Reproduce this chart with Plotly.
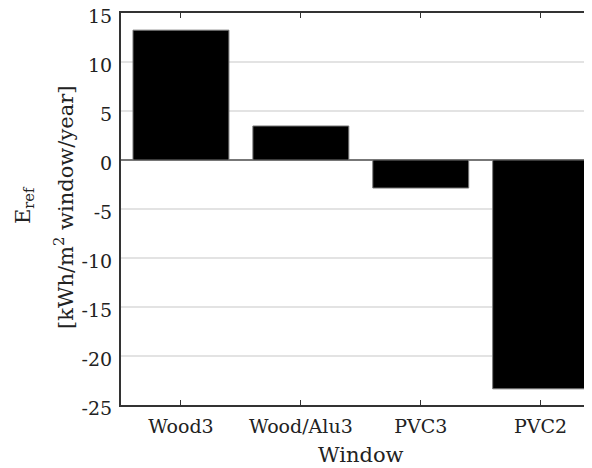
import plotly.graph_objects as go

categories = ["Wood3", "Wood/Alu3", "PVC3", "PVC2"]
e_ref = [13.25, 3.47, -2.86, -23.35]
y_ticks = [-25, -20, -15, -10, -5, 0, 5, 10, 15]
y_ticktext = ["-25", "-20", "-15", "-10", "-5", "0", "5", "10", "15"]

FONT = "DejaVu Serif"
TXT = "#222222"

fig = go.Figure()
fig.add_trace(go.Bar(
    x=list(range(len(categories))), y=e_ref, width=0.8,
    marker=dict(color="black", line=dict(color="#777777", width=1)),
))

# x-axis title
fig.add_annotation(
    x=(len(categories) - 1) / 2, xref="x", y=-0.128, yref="paper",
    text="Window", showarrow=False, yanchor="middle",
    font=dict(family=FONT, size=21, color=TXT),
)
# y-axis title (two lines)
fig.add_annotation(
    x=0, xref="paper", y=0.5, yref="paper", xshift=-97, yshift=4,
    text="E<sub>ref</sub>", showarrow=False, textangle=-90,
    xanchor="center", yanchor="middle",
    font=dict(family=FONT, size=21, color=TXT),
)
fig.add_annotation(
    x=0, xref="paper", y=0.5, yref="paper", xshift=-57, yshift=1,
    text="[kWh/m<sup>2</sup> window/year]", showarrow=False, textangle=-90,
    xanchor="center", yanchor="middle",
    font=dict(family=FONT, size=21, color=TXT),
)

fig.update_layout(
    width=592, height=468,
    margin=dict(l=113, r=9, t=5, b=71),
    paper_bgcolor="white", plot_bgcolor="white",
    showlegend=False,
    font=dict(family=FONT, size=19, color=TXT),
    bargap=0.2,
)
fig.update_xaxes(
    range=[-0.5, 3.42], automargin=False,
    tickmode="array", tickvals=list(range(len(categories))), ticktext=categories,
    ticks="inside", ticklen=5, tickcolor="#333333", tickwidth=1,
    showline=True, linecolor="#333333", linewidth=1.5, mirror="ticks",
    showgrid=False, zeroline=False, ticklabelstandoff=3,
    tickfont=dict(family=FONT, size=19, color=TXT),
)
fig.update_yaxes(
    range=[-25, 15], tickvals=y_ticks, ticktext=y_ticktext, automargin=False,
    showline=True, linecolor="#333333", linewidth=2, mirror=False,
    showgrid=True, gridcolor="#e3e3e3", gridwidth=1.5,
    zeroline=True, zerolinecolor="#777777", zerolinewidth=1.5,
    ticks="", ticklabelstandoff=3, ticklabelshift=3, ticklabeloverflow="allow",
    tickfont=dict(family=FONT, size=19, color=TXT),
)

fig.write_html("out.html")
